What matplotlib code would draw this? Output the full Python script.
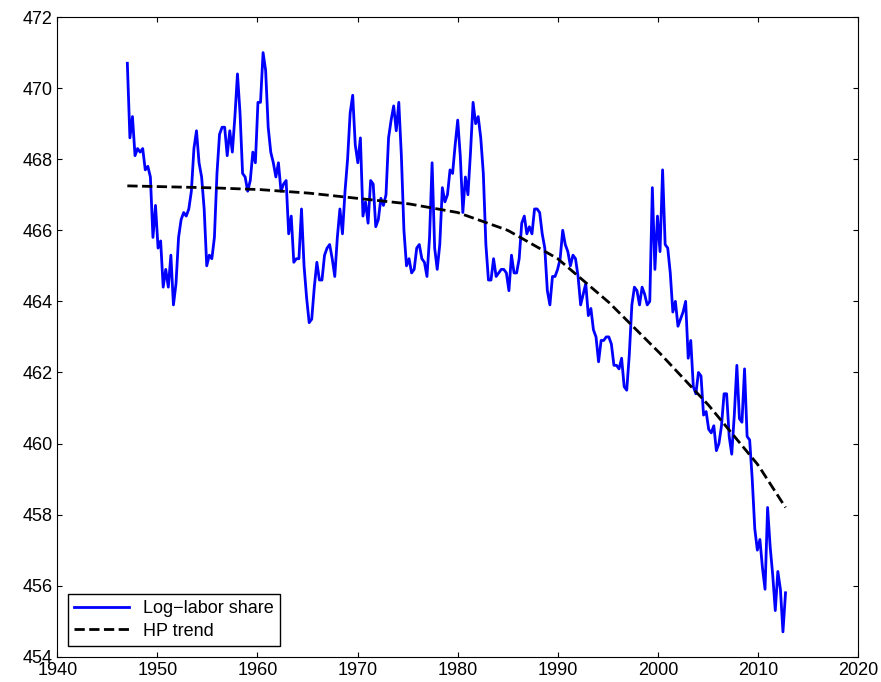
import matplotlib
matplotlib.use("Agg")
import matplotlib.pyplot as plt
import numpy as np

plt.rcParams['font.family'] = ['Liberation Sans', 'DejaVu Sans']

labor_share = [470.7,468.6,469.2,468.1,468.3,468.2,468.3,467.7,467.8,467.5,465.8,466.7,465.5,465.7,464.4,464.9,464.4,465.3,463.9,464.5,465.8,466.3,466.5,466.4,466.6,467.1,468.3,468.8,467.9,467.5,466.6,465.0,465.3,465.2,465.8,467.6,468.7,468.9,468.9,468.1,468.8,468.2,469.2,470.4,469.3,467.6,467.5,467.1,467.4,468.2,467.9,469.6,469.6,471.0,470.5,468.9,468.2,467.9,467.5,467.9,467.1,467.3,467.4,465.9,466.4,465.1,465.2,465.2,466.6,465.0,464.1,463.4,463.5,464.4,465.1,464.6,464.6,465.3,465.5,465.6,465.2,464.7,465.8,466.6,465.9,467.1,468.0,469.3,469.8,468.4,467.9,468.6,466.4,466.8,466.2,467.4,467.3,466.1,466.3,466.9,466.7,467.0,468.6,469.1,469.5,468.8,469.6,468.1,466.0,465.0,465.2,464.8,464.9,465.5,465.6,465.2,465.1,464.7,465.8,467.9,465.5,464.9,465.6,467.2,466.8,467.0,467.7,467.6,468.4,469.1,468.1,466.5,467.5,467.0,468.2,469.6,469.0,469.2,468.6,467.6,465.6,464.6,464.6,465.2,464.7,464.8,464.9,464.9,464.8,464.3,465.3,464.8,464.8,465.2,466.2,466.4,465.9,466.1,465.9,466.6,466.6,466.5,465.9,465.5,464.3,463.9,464.7,464.7,464.9,465.2,466.0,465.6,465.4,465.0,465.3,465.2,464.7,463.9,464.2,464.5,463.6,463.8,463.2,463.0,462.3,462.9,462.9,463.0,463.0,462.8,462.2,462.2,462.1,462.4,461.6,461.5,462.5,463.9,464.4,464.3,463.9,464.4,464.2,463.9,464.0,467.2,464.9,466.4,465.4,467.7,465.6,465.5,464.8,463.7,464.0,463.3,463.5,463.7,464.0,462.4,462.9,461.6,461.4,462.0,461.9,460.8,460.9,460.4,460.3,460.5,459.8,460.0,460.5,461.4,461.4,460.2,459.7,460.8,462.2,460.7,460.6,462.1,460.2,460.1,459.0,457.6,457.0,457.3,456.5,455.9,458.2,457.1,456.3,455.3,456.4,455.9,454.7,455.8]
years = 1947 + np.arange(len(labor_share)) * (2012.75 - 1947) / (len(labor_share) - 1)

trend_years = [1947,1955,1960,1965,1970,1975,1980,1985,1990,1995,2000,2005,2010,2012.75]
trend_vals = [467.25,467.2,467.15,467.05,466.9,466.75,466.5,466.0,465.2,464.0,462.6,461.1,459.4,458.2]
ty = np.linspace(1947, 2012.75, len(labor_share))
tv = np.interp(ty, trend_years, trend_vals)

fig = plt.figure(figsize=(8.81, 6.82), dpi=100)
ax = fig.add_axes([0.065, 0.037, 0.909, 0.938])
ax.plot(years, labor_share, color='#0000ff', lw=2, label='Log\u2212labor share')
ax.plot(ty, tv, 'k--', lw=2, label='HP trend')
ax.set_xlim(1940, 2020)
ax.set_ylim(454, 472)
ax.set_xticks(range(1940, 2021, 10))
ax.set_yticks(range(454, 473, 2))
ax.tick_params(direction='in', top=True, right=True, labelsize=13)
ax.legend(loc='lower left', fontsize=13, fancybox=False, edgecolor='black', framealpha=1,
          borderpad=0.35, handlelength=3, borderaxespad=0.6, labelspacing=0.3)
fig.savefig('out.png', dpi=100)
